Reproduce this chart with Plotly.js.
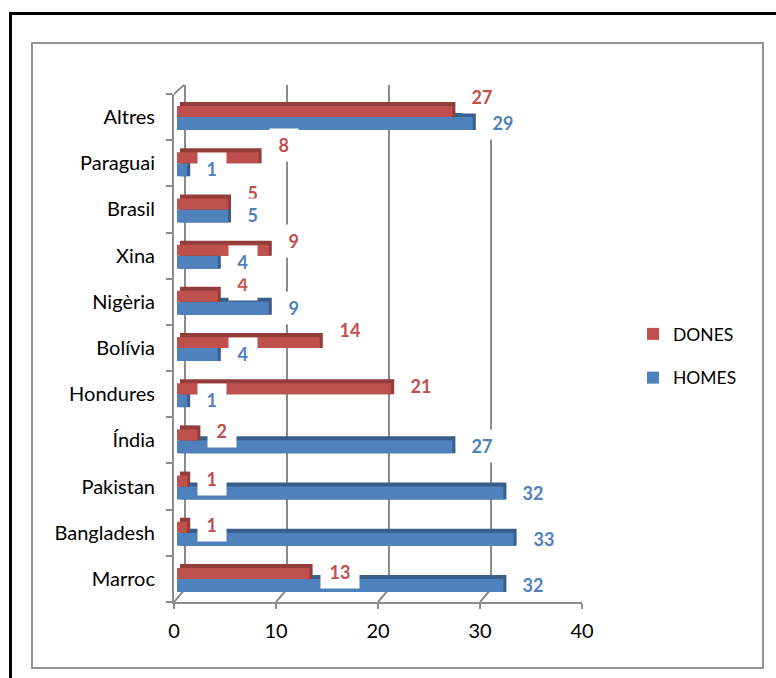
<!DOCTYPE html>
<html>
<head>
<meta charset="utf-8">
<script src="https://cdn.plot.ly/plotly-3.0.1.min.js"></script>
<style>
  html, body { margin: 0; padding: 0; background: #fff; overflow: hidden; }
  #wrap { position: relative; width: 776px; height: 678px; }
  #chart { position: absolute; left: 0; top: 0; width: 776px; height: 678px; }
  .frame { position: absolute; pointer-events: none; box-sizing: border-box; }
  #outer { left: 9px; top: 12px; width: 800px; height: 700px; border-left: 3px solid #000; border-top: 3px solid #000; }
  #inner { left: 31px; top: 42px; width: 733px; height: 627px; border: 2px solid #939393; }
</style>
</head>
<body>
<div id="wrap">
  <div id="chart"></div>
  <div class="frame" id="outer"></div>
  <div class="frame" id="inner"></div>
</div>
<script>
// Countries, bottom to top
const categories = ['Marroc', 'Bangladesh', 'Pakistan', 'Índia', 'Hondures', 'Bolívia', 'Nigèria', 'Xina', 'Brasil', 'Paraguai', 'Altres'];
const dones = [13, 1, 1, 2, 21, 14, 4, 9, 5, 8, 27];
const homes = [32, 33, 32, 27, 1, 4, 9, 4, 5, 1, 29];
const xTicks = [0, 10, 20, 30, 40];

// Vertical lift (px) of the DONES value labels per row
const doneLabelLift = [7, 8, 8, 9, 8, 18, 18, 15, 16, 18, 20];

// Page geometry (px)
const W = 776, H = 678;
const PL = 174, PR = 582, PT = 94, PB = 602;
const plotH = PB - PT;
const band = plotH / categories.length;
const pxPerUnit = (PR - PL) / 40;
const DX = 11, DY = 13;          // depth of the 3D box
const TOP_BACK = 85;             // top of the back wall

const RED = '#C0504D', RED_DARK = '#923D3B';
const BLUE = '#4F81BD', BLUE_DARK = '#385E8C';
const GRID = '#8c8c8c';
const FONT = 'Lato, Calibri, "Open Sans", sans-serif';

// Bars sit a little inside the box; their darker twin gives the top/side faces
const redW = 11 / band, blueW = 13 / band, lift = 4 / band;
const frontBase = 3 / pxPerUnit;
const depthBase = 6 / pxPerUnit;

const traces = [
  { type: 'bar', orientation: 'h', y: categories, x: homes, base: depthBase,
    offset: -blueW, width: blueW + lift, marker: { color: BLUE_DARK },
    showlegend: false, hoverinfo: 'skip' },
  { type: 'bar', orientation: 'h', name: 'HOMES', y: categories, x: homes, base: frontBase,
    offset: -blueW, width: blueW, marker: { color: BLUE }, legendgroup: 'h', legendrank: 2 },
  { type: 'bar', orientation: 'h', y: categories, x: dones, base: depthBase,
    offset: 0, width: redW + lift, marker: { color: RED_DARK },
    showlegend: false, hoverinfo: 'skip' },
  { type: 'bar', orientation: 'h', name: 'DONES', y: categories, x: dones, base: frontBase,
    offset: 0, width: redW, marker: { color: RED }, legendgroup: 'd', legendrank: 1 }
];

// Back wall, floor and side wall lines of the 3D box
const floorY = DY / plotH;
const topY = (PB - TOP_BACK) / plotH;
const shapes = [];
const lineStyle = { color: GRID, width: 2 };
xTicks.forEach(v => {
  shapes.push({ type: 'line', layer: 'below', xref: 'x', xsizemode: 'pixel', xanchor: v,
    x0: DX, x1: DX, yref: 'paper', y0: floorY, y1: topY, line: lineStyle });
  shapes.push({ type: 'line', layer: 'below', xref: 'x', xsizemode: 'pixel', xanchor: v,
    x0: 0, x1: DX, yref: 'paper', y0: 0, y1: floorY, line: lineStyle });
});
shapes.push({ type: 'line', layer: 'below', xref: 'x', xsizemode: 'pixel', xanchor: 0,
  x0: 0, x1: DX - 1, yref: 'paper', y0: 1, y1: topY, line: lineStyle });

// Value labels on white boxes
const annotations = [];
function label(v, cat, color, yshift) {
  const txt = String(v);
  annotations.push({
    x: v, y: cat, xref: 'x', yref: 'y', text: '<b>' + txt + '</b>', showarrow: false,
    xanchor: 'left', yanchor: 'middle', xshift: 13, yshift: yshift,
    font: { family: FONT, size: 18, color: color },
    bgcolor: '#ffffff', borderpad: 5, width: 7 + 10.5 * txt.length, height: 22
  });
}
categories.forEach((c, i) => {
  label(dones[i], c, RED, doneLabelLift[i]);
  label(homes[i], c, BLUE, -6);
});

const layout = {
  width: W, height: H,
  margin: { l: PL, r: W - PR, t: PT, b: H - PB, pad: 0 },
  paper_bgcolor: '#ffffff', plot_bgcolor: 'rgba(0,0,0,0)',
  barmode: 'overlay',
  font: { family: FONT, size: 20, color: '#000' },
  xaxis: {
    range: [0, 40], tickvals: xTicks, ticktext: xTicks.map(String),
    showgrid: false, zeroline: false, showline: true, linecolor: GRID, linewidth: 2,
    ticks: 'outside', ticklen: 5, tickwidth: 2, tickcolor: GRID,
    ticklabelstandoff: 5,
    tickfont: { family: FONT, size: 20, color: '#000' }, fixedrange: true
  },
  yaxis: {
    type: 'category', categoryorder: 'array', categoryarray: categories,
    range: [-0.5, categories.length - 0.5],
    showgrid: false, zeroline: false, showline: true, linecolor: GRID, linewidth: 2,
    ticks: 'outside', tickson: 'boundaries', ticklen: 6, tickwidth: 2, tickcolor: GRID,
    ticklabelstandoff: 13,
    tickfont: { family: FONT, size: 20, color: '#000' }, fixedrange: true
  },
  legend: {
    x: (633 - PL) / (PR - PL), y: (PB - 316) / plotH, xanchor: 'left', yanchor: 'top',
    traceorder: 'grouped', tracegroupgap: 18,
    font: { family: FONT, size: 17.5, color: '#000' }, bgcolor: 'rgba(0,0,0,0)'
  },
  shapes: shapes,
  annotations: annotations
};

Plotly.newPlot('chart', traces, layout, { displayModeBar: false, staticPlot: true });
</script>
</body>
</html>
